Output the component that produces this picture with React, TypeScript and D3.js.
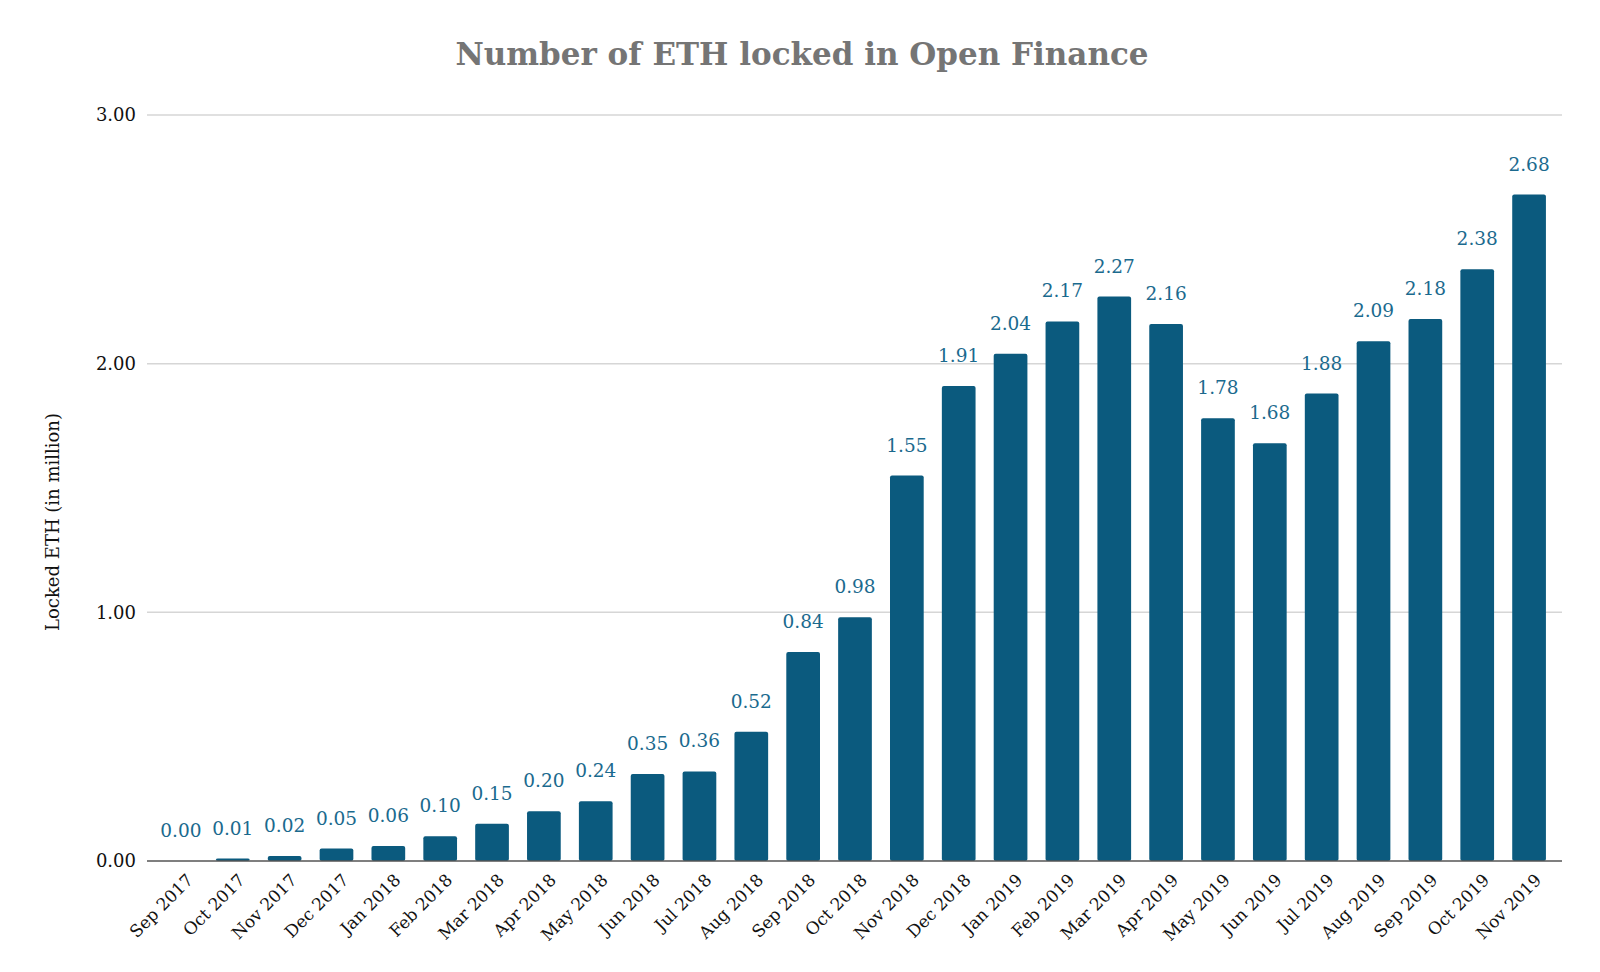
import React, { useEffect, useRef } from "react";
import * as d3 from "d3";

const months = [
  "Sep 2017", "Oct 2017", "Nov 2017", "Dec 2017", "Jan 2018", "Feb 2018", "Mar 2018",
  "Apr 2018", "May 2018", "Jun 2018", "Jul 2018", "Aug 2018", "Sep 2018", "Oct 2018",
  "Nov 2018", "Dec 2018", "Jan 2019", "Feb 2019", "Mar 2019", "Apr 2019", "May 2019",
  "Jun 2019", "Jul 2019", "Aug 2019", "Sep 2019", "Oct 2019", "Nov 2019",
];

const lockedEth = [
  0.0, 0.01, 0.02, 0.05, 0.06, 0.1, 0.15, 0.2, 0.24, 0.35, 0.36, 0.52, 0.84, 0.98,
  1.55, 1.91, 2.04, 2.17, 2.27, 2.16, 1.78, 1.68, 1.88, 2.09, 2.18, 2.38, 2.68,
];

const yTicks = [0, 1, 2, 3];

const FONT = "'DejaVu Serif', 'Liberation Serif', serif";

export default function App() {
  const svgRef = useRef<SVGSVGElement | null>(null);

  useEffect(() => {
    if (!svgRef.current) return;
    const svg = d3.select(svgRef.current);
    svg.selectAll("*").remove();

    const W = 1600;
    const H = 972;
    svg.attr("width", W).attr("height", H);

    const left = 147;
    const right = 1562;
    const top = 115;
    const bottom = 861;

    const x = d3
      .scaleBand<string>()
      .domain(months)
      .range([155, 1555])
      .paddingInner(0.35)
      .paddingOuter(0.175);

    const y = d3.scaleLinear().domain([0, 3]).range([bottom, top]);

    // title
    svg
      .append("text")
      .attr("x", 802)
      .attr("y", 65)
      .attr("text-anchor", "middle")
      .style("font-family", FONT)
      .style("font-weight", "bold")
      .style("font-size", "31px")
      .style("fill", "#757575")
      .text("Number of ETH locked in Open Finance");

    // gridlines
    svg
      .append("g")
      .selectAll("line")
      .data(yTicks.filter((t) => t > 0))
      .enter()
      .append("line")
      .attr("x1", left)
      .attr("x2", right)
      .attr("y1", (d) => y(d))
      .attr("y2", (d) => y(d))
      .attr("stroke", "#d6d6d6")
      .attr("stroke-width", 1.5);

    // y tick labels
    svg
      .append("g")
      .selectAll("text")
      .data(yTicks)
      .enter()
      .append("text")
      .attr("x", 136)
      .attr("y", (d) => y(d))
      .attr("dy", "0.35em")
      .attr("text-anchor", "end")
      .style("font-family", FONT)
      .style("font-size", "18px")
      .style("fill", "#111")
      .text((d) => d3.format(".2f")(d));

    // y title
    svg
      .append("text")
      .attr("transform", `translate(59, 522) rotate(-90)`)
      .attr("text-anchor", "middle")
      .style("font-family", FONT)
      .style("font-size", "18px")
      .style("fill", "#111")
      .text("Locked ETH (in million)");

    // bars
    svg
      .append("g")
      .selectAll("rect")
      .data(lockedEth)
      .enter()
      .append("rect")
      .attr("x", (_, i) => x(months[i]) as number)
      .attr("y", (d) => y(d))
      .attr("width", x.bandwidth())
      .attr("height", (d) => bottom - y(d))
      .attr("rx", 2)
      .attr("fill", "#0b5a7e");

    // value labels
    svg
      .append("g")
      .selectAll("text")
      .data(lockedEth)
      .enter()
      .append("text")
      .attr("x", (_, i) => (x(months[i]) as number) + x.bandwidth() / 2)
      .attr("y", (d) => y(d) - 24)
      .attr("text-anchor", "middle")
      .style("font-family", FONT)
      .style("font-size", "18.5px")
      .style("fill", "#1b6a8e")
      .text((d) => d3.format(".2f")(d));

    // baseline
    svg
      .append("line")
      .attr("x1", left)
      .attr("x2", right)
      .attr("y1", bottom)
      .attr("y2", bottom)
      .attr("stroke", "#555")
      .attr("stroke-width", 1.5);

    // x labels
    svg
      .append("g")
      .selectAll("text")
      .data(months)
      .enter()
      .append("text")
      .attr(
        "transform",
        (d) => `translate(${(x(d) as number) + x.bandwidth() / 2 + 9}, ${bottom + 16}) rotate(-45)`
      )
      .attr("text-anchor", "end")
      .attr("dy", "0.35em")
      .style("font-family", FONT)
      .style("font-size", "17px")
      .style("fill", "#111")
      .text((d) => d);
  }, []);

  return (
    <div style={{ width: 1600, height: 972, margin: -8, background: "#fff" }}>
      <svg ref={svgRef} style={{ display: "block" }}></svg>
    </div>
  );
}
